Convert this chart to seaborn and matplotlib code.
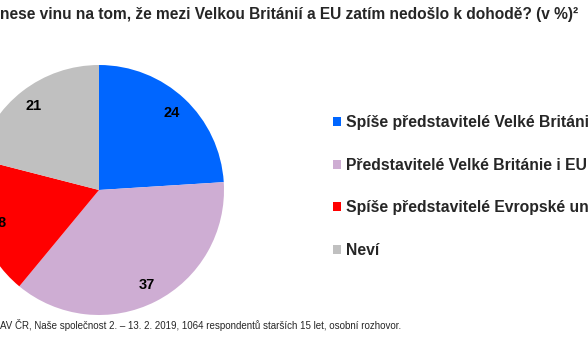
import matplotlib
matplotlib.use("Agg")
import matplotlib.pyplot as plt
import seaborn as sns

# data
kategorie = ["Spíše představitelé Velké Británie",
             "Představitelé Velké Británie i EU",
             "Spíše představitelé Evropské unie",
             "Neví"]
hodnoty = [24, 37, 18, 21]
barvy = ["#0066FF", "#CEADD3", "#FF0000", "#C0C0C0"]

titulek = "nese vinu na tom, že mezi Velkou Británií a EU zatím nedošlo k dohodě? (v %)²"
zdroj = "AV ČR, Naše společnost 2. – 13. 2. 2019, 1064 respondentů starších 15 let, osobní rozhovor."

sns.set_theme(style="white")
plt.rcParams['font.family'] = ['Liberation Sans', 'DejaVu Sans']

W, H = 588, 363
fig = plt.figure(figsize=(W / 100, H / 100), dpi=100)

# pie: center (99, 190) px, radius 125 px
cx, cy, r = 99, 190, 125
ax = fig.add_axes([(cx - r) / W, (H - cy - r) / H, 2 * r / W, 2 * r / H])
wedges, texty = ax.pie(hodnoty, colors=barvy, startangle=90, counterclock=False,
                       labels=[str(v) for v in hodnoty], labeldistance=0.85,
                       textprops=dict(fontsize=10.5, fontweight='bold', color='black',
                                      ha='center', va='center'),
                       wedgeprops=dict(linewidth=0))
ax.set_xlim(-1, 1)
ax.set_ylim(-1, 1)
ax.axis('off')

fig.text(0, 1 - 14 / H, titulek, fontsize=11.2, fontweight='bold', ha='left', va='center')
fig.text(0, 1 - 325 / H, zdroj, fontsize=7.05, ha='left', va='center')

leg = fig.legend(wedges, kategorie, loc='upper left',
                 bbox_to_anchor=(327 / W, 1 - 109 / H),
                 frameon=False, handlelength=0.5, handleheight=0.5,
                 handletextpad=0.3, labelspacing=1.75, borderaxespad=0,
                 prop=dict(size=11.3, weight='bold'))

fig.savefig("out.png", dpi=100)
